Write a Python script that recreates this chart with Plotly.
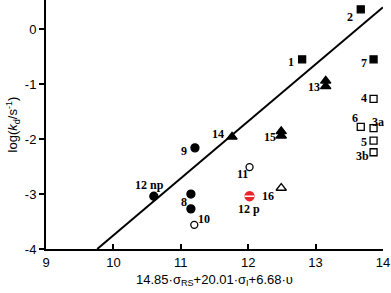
import plotly.graph_objects as go

# filled squares
fsq_x = [12.80, 13.67, 13.86]
fsq_y = [-0.55, 0.36, -0.55]
fsq_lab = ["1", "2", "7"]
# open squares
osq_x = [13.86, 13.67, 13.86, 13.86, 13.86]
osq_y = [-1.27, -1.78, -1.80, -2.03, -2.24]
osq_lab = ["4", "6", "3a", "5", "3b"]
# filled triangles
ftr_x = [13.15, 13.15, 11.76, 12.49, 12.49]
ftr_y = [-0.94, -1.04, -1.96, -1.86, -1.94]
ftr_lab = ["", "13", "14", "", "15"]
# open triangle
otr_x = [12.49]
otr_y = [-2.89]
otr_lab = ["16"]
# filled circles
fci_x = [11.21, 10.60, 11.15, 11.15]
fci_y = [-2.16, -3.04, -3.00, -3.27]
fci_lab = ["9", "12 np", "", "8"]
# open circles
oci_x = [11.20, 12.02]
oci_y = [-3.56, -2.51]
oci_lab = ["10", "11"]
# red half circle
red_x = [12.02]
red_y = [-3.04]
red_lab = ["12 p"]
# fit line
fit_x = [9.76, 14.0]
fit_y = [-4.0, 0.40]

label_shift = {
    "1": (-11, -3), "2": (-11, -8), "7": (-10, -4), "13": (-12, -1),
    "14": (-14, 3), "15": (-11, -1), "4": (-10, 1), "6": (-6, 9),
    "3a": (4, 6), "5": (-10, -1), "3b": (-11, -4), "9": (-11, -3),
    "12 np": (-4, 11), "8": (-7, 7), "10": (10, 6), "11": (-7, -7),
    "12 p": (-1, -13), "16": (-13, -8),
}

fig = go.Figure()
fig.add_trace(go.Scatter(x=fit_x, y=fit_y, mode="lines",
                         line=dict(color="black", width=2), hoverinfo="skip"))

def add(xs, ys, symbol, color, size, fill=True):
    fig.add_trace(go.Scatter(
        x=xs, y=ys, mode="markers",
        marker=dict(symbol=symbol, size=size,
                    color=color if fill else "white",
                    line=dict(color=color, width=1.3))))

add(fsq_x, fsq_y, "square", "black", 7)
add(osq_x, osq_y, "square", "black", 7, fill=False)
add(ftr_x, ftr_y, "triangle-up", "black", 9)
add(otr_x, otr_y, "triangle-up", "black", 9, fill=False)
add(fci_x, fci_y, "circle", "black", 8)
add(oci_x, oci_y, "circle", "black", 7, fill=False)
add(red_x, red_y, "circle", "#e8262a", 9)
fig.add_trace(go.Scatter(x=red_x, y=red_y, mode="markers",
                         marker=dict(symbol="line-ew", size=7,
                                     line=dict(color="white", width=1.5))))

for xs, ys, labs in [(fsq_x, fsq_y, fsq_lab), (osq_x, osq_y, osq_lab),
                     (ftr_x, ftr_y, ftr_lab), (otr_x, otr_y, otr_lab),
                     (fci_x, fci_y, fci_lab), (oci_x, oci_y, oci_lab),
                     (red_x, red_y, red_lab)]:
    for x, y, t in zip(xs, ys, labs):
        if not t:
            continue
        dx, dy = label_shift[t]
        fig.add_annotation(x=x, y=y, text="<b>%s</b>" % t, showarrow=False,
                           xshift=dx, yshift=dy,
                           font=dict(family="Liberation Serif", size=12, color="black"))

fig.update_layout(
    width=391, height=293, showlegend=False,
    margin=dict(l=46, r=8, t=0, b=44, autoexpand=False),
    plot_bgcolor="white", paper_bgcolor="white",
    font=dict(family="Liberation Sans", color="black", size=13),
)
fig.update_xaxes(range=[9, 14], tickvals=[9, 10, 11, 12, 13, 14],
                 automargin=False,
                 showgrid=False, zeroline=False, showline=True,
                 linecolor="black", linewidth=2, ticks="inside", ticklen=5,
                 tickwidth=2, tickcolor="black",
                 title=dict(text="14.85·σ<sub>RS</sub>+20.01·σ<sub>I</sub>+6.68·υ",
                            standoff=6, font=dict(size=13)))
fig.update_yaxes(range=[-4, 0.53], tickvals=[0, -1, -2, -3, -4],
                 ticktext=["0", "-1", "-2", "-3", "-4"],
                 automargin=False,
                 showgrid=False, zeroline=False, showline=True,
                 linecolor="black", linewidth=2, ticks="outside", ticklen=5,
                 tickwidth=2, tickcolor="black",
                 title=dict(text="log(<i>k</i><sub>d</sub>/s<sup>-1</sup>)",
                            standoff=4, font=dict(size=13)))

fig.write_html("out.html", config={"displayModeBar": False},
               post_script="document.body.style.margin='0';document.body.style.padding='0';")
